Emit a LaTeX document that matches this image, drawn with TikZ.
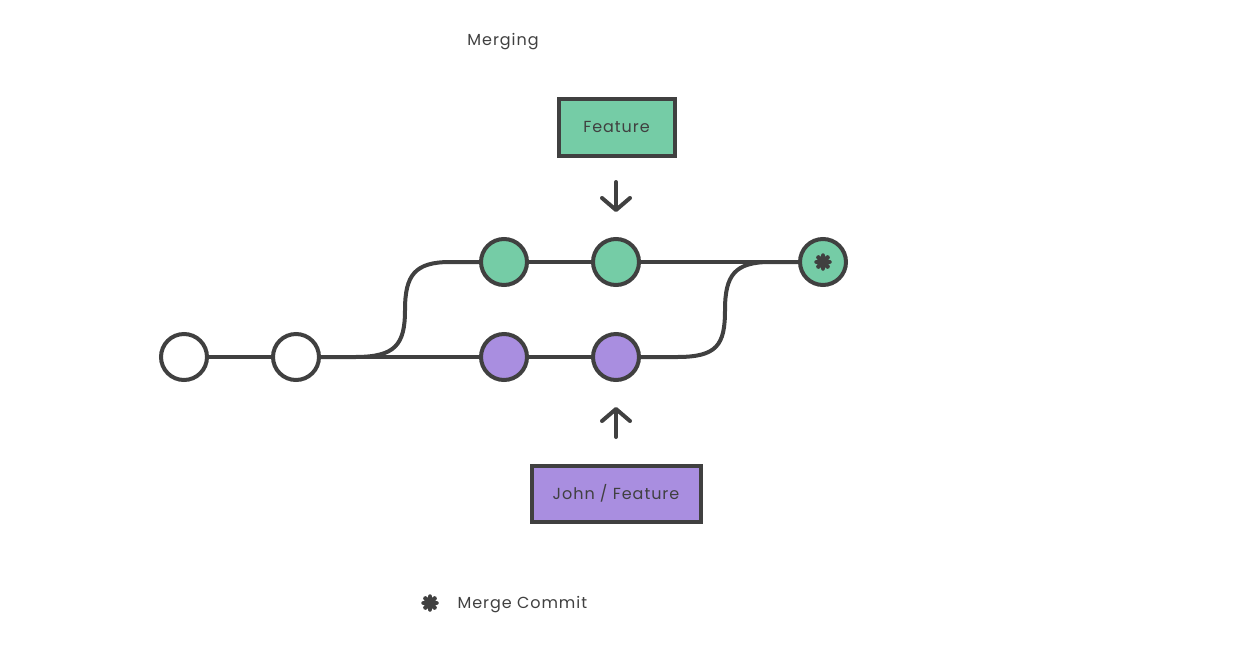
\documentclass[tikz,border=0pt]{standalone}
\usepackage{fontspec}
\setmainfont{Poppins}[LetterSpace=6]
\usetikzlibrary{arrows.meta}
\definecolor{ink}{HTML}{404040}
\definecolor{gfill}{HTML}{75CCA6}
\definecolor{pfill}{HTML}{A98EE0}
\tikzset{
  commit/.style={circle,draw=ink,line width=4pt,minimum size=46pt,inner sep=0pt},
  wire/.style={draw=ink,line width=4pt},
  label/.style={draw=ink,line width=4pt,inner sep=0pt,font=\fontsize{16}{16}\selectfont,text=ink},
  txt/.style={font=\fontsize{16}{16}\selectfont,text=ink},
  pointer/.style={draw=ink,line width=4pt,line cap=round,-{Straight Barb[length=12pt,width=28pt,line cap=round,line join=round]}},
  star/.style={ink,line cap=round,line width=4.5pt},
}
\begin{document}
\begin{tikzpicture}[x=1pt,y=-1pt]
\useasboundingbox (0,0) rectangle (1244,670);
\node[txt] (title) at (503,42) {Merging};
% commits
\node[commit,fill=white] (w1) at (184,357) {};
\node[commit,fill=white] (w2) at (296,357) {};
\node[commit,fill=gfill] (g1) at (504,262) {};
\node[commit,fill=gfill] (g2) at (616,262) {};
\node[commit,fill=pfill] (p1) at (504,357) {};
\node[commit,fill=pfill] (p2) at (616,357) {};
\node[commit,fill=gfill] (m) at (823,262) {};
% merge star in m
\foreach \a in {0,45,90,135}{
  \draw[star] ([shift={(\a:6.5pt)}]m.center) -- ([shift={(\a+180:6.5pt)}]m.center);
}
% branch coordinates
\coordinate (b0) at (355,357);
\coordinate (b1) at (405,310);
\coordinate (b2) at (450,262);
\coordinate (c0) at (677,357);
\coordinate (c1) at (725,310);
\coordinate (c2) at (770,262);
% connectors
\draw[wire] (w1) -- (w2);
\draw[wire] (w2) -- (p1);
\draw[wire] (p1) -- (p2);
\draw[wire] (g1) -- (g2);
\draw[wire] (g2) -- (m);
\draw[wire] (w2.east) -- (b0) .. controls (395,357) and (405,345) .. (b1) .. controls (405,275) and (415,262) .. (b2) -- (g1.west);
\draw[wire] (p2.east) -- (c0) .. controls (717,357) and (725,345) .. (c1) .. controls (725,275) and (735,262) .. (c2) -- (m.west);
% branch labels
\node[label,fill=gfill,minimum width=116pt,minimum height=57pt] (feat) at (616.5,127) {Feature};
\node[label,fill=pfill,minimum width=169pt,minimum height=56pt] (john) at (616,493.5) {John / Feature};
\coordinate (a1s) at (616,182);
\coordinate (a1e) at (616,212);
\coordinate (a2s) at (616,437);
\coordinate (a2e) at (616,407);
\draw[pointer] (a1s) -- (a1e);
\draw[pointer] (a2s) -- (a2e);
% legend
\coordinate (ls) at (430,603);
\foreach \a in {0,45,90,135}{
  \draw[star] ([shift={(\a:6.5pt)}]ls) -- ([shift={(\a+180:6.5pt)}]ls);
}
\node[txt,anchor=west] (legend) at (454,605) {Merge Commit};
\end{tikzpicture}
\end{document}
